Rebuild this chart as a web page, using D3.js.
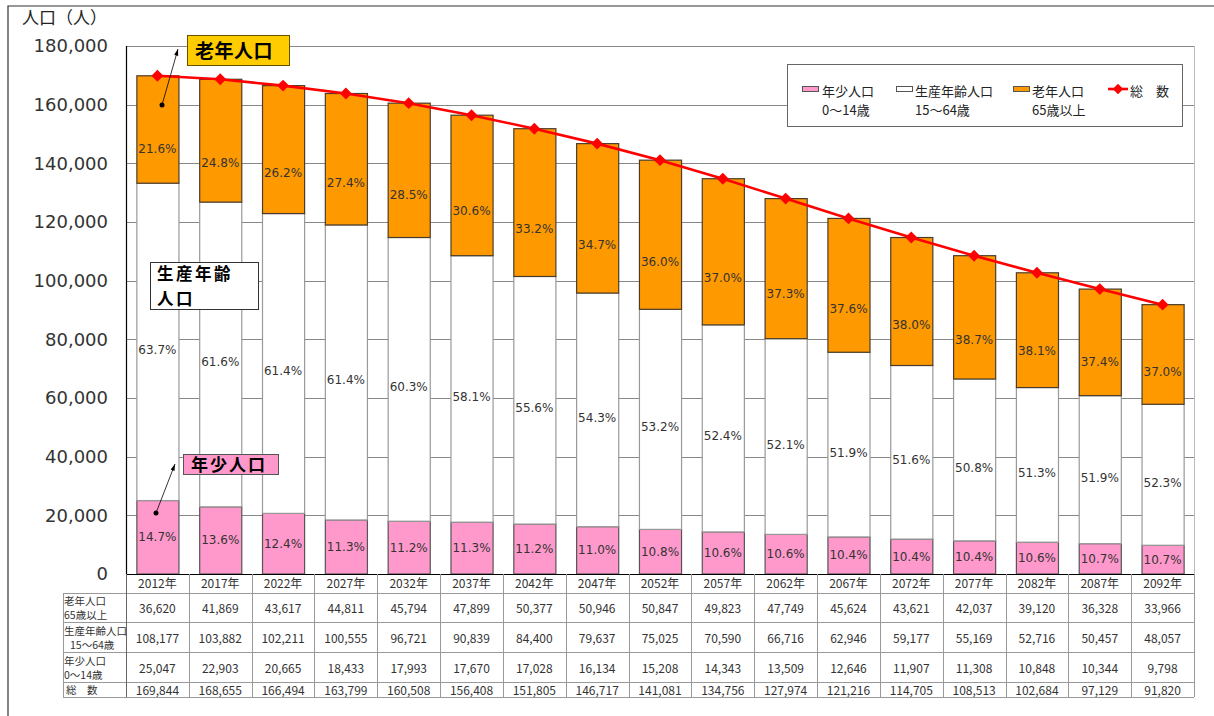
<!DOCTYPE html>
<html>
<head>
<meta charset="utf-8">
<script src="https://cdn.jsdelivr.net/npm/d3@7"></script>
<style>
  body { margin: 0; background: #fff; }
  svg { display: block; font-family: "Noto Sans CJK JP", "Noto Sans", sans-serif; }
</style>
</head>
<body>
<div id="graphic"></div>
<script>
// years along the bottom
const years = ['2012年','2017年','2022年','2027年','2032年','2037年','2042年','2047年','2052年',
  '2057年','2062年','2067年','2072年','2077年','2082年','2087年','2092年']

// 年少人口 0～14歳
const young = [25047,22903,20665,18433,17993,17670,17028,16134,15208,14343,13509,12646,11907,11308,10848,10344,9798]
// 生産年齢人口 15～64歳
const working = [108177,103882,102211,100555,96721,90839,84400,79637,75025,70590,66716,62946,59177,55169,52716,50457,48057]
// 老年人口 65歳以上
const elderly = [36620,41869,43617,44811,45794,47899,50377,50946,50847,49823,47749,45624,43621,42037,39120,36328,33966]
// 総数
const total = [169844,168655,166494,163799,160508,156408,151805,146717,141081,134756,127974,121216,114705,108513,102684,97129,91820]

// percentages printed on the bars
const youngPct = ['14.7%','13.6%','12.4%','11.3%','11.2%','11.3%','11.2%','11.0%','10.8%','10.6%','10.6%','10.4%','10.4%','10.4%','10.6%','10.7%','10.7%']
const workingPct = ['63.7%','61.6%','61.4%','61.4%','60.3%','58.1%','55.6%','54.3%','53.2%','52.4%','52.1%','51.9%','51.6%','50.8%','51.3%','51.9%','52.3%']
const elderlyPct = ['21.6%','24.8%','26.2%','27.4%','28.5%','30.6%','33.2%','34.7%','36.0%','37.0%','37.3%','37.6%','38.0%','38.7%','38.1%','37.4%','37.0%']

const yTicks = [0,20000,40000,60000,80000,100000,120000,140000,160000,180000]

const rowLabels = [['老年人口','65歳以上'], ['生産年齢人口','15～64歳'], ['年少人口','0～14歳'], ['総　数']]
const rowValues = [elderly, working, young, total]

;(function () {
  var width = 1214
  var height = 716

  var svg = d3.select('#graphic').append('svg')
    .attr('width', width)
    .attr('height', height)

  var left = 126, right = 1194, top = 46, bottom = 574
  var latin = '"DejaVu Sans", sans-serif'

  var x = d3.scaleBand()
    .domain(years)
    .range([left, right])
    .paddingInner(0.33)
    .paddingOuter(0.165)

  var y = d3.scaleLinear()
    .domain([0, 180000])
    .range([bottom, top])

  var fmt = d3.format(',')

  // outer frame
  svg.append('path')
    .attr('d', 'M8,716 V6 H1214')
    .attr('fill', 'none')
    .attr('stroke', '#333')
    .attr('stroke-width', 1.2)

  // gridlines + y labels
  var yAxis = d3.axisLeft(y).tickValues(yTicks).tickSize(0).tickFormat(fmt)
  var yg = svg.append('g').attr('transform', 'translate(' + left + ',0)').call(yAxis)
  yg.select('.domain').remove()
  yg.selectAll('text')
    .attr('x', -18)
    .attr('font-size', 18)
    .attr('fill', '#333')
    .attr('font-family', latin)

  svg.append('g').selectAll('line')
    .data(yTicks.filter(d => d > 0))
    .enter().append('line')
    .attr('x1', left).attr('x2', right)
    .attr('y1', d => Math.round(y(d)) + 0.5).attr('y2', d => Math.round(y(d)) + 0.5)
    .attr('stroke', '#888')

  // right border of plot
  svg.append('line')
    .attr('x1', right + 0.5).attr('x2', right + 0.5)
    .attr('y1', top).attr('y2', bottom)
    .attr('stroke', '#bbb')

  svg.append('text')
    .attr('x', 22).attr('y', 24)
    .attr('font-size', 17)
    .attr('fill', '#222')
    .text('人口（人）')

  // stacked bars
  var series = [
    { name: 'young', fill: '#FF99CC', stroke: '#555' },
    { name: 'working', fill: '#FFFFFF', stroke: '#999' },
    { name: 'elderly', fill: '#FF9900', stroke: '#4a3c2c' }
  ]

  var stackData = years.map((yr, i) => ({ year: yr, young: young[i], working: working[i], elderly: elderly[i] }))
  var stacked = d3.stack().keys(['young', 'working', 'elderly'])(stackData)

  var barG = svg.append('g')
  stacked.forEach((layer, k) => {
    barG.append('g').selectAll('rect')
      .data(layer)
      .enter().append('rect')
      .attr('x', d => x(d.data.year) + 0.5)
      .attr('width', x.bandwidth())
      .attr('y', d => y(d[1]))
      .attr('height', d => y(d[0]) - y(d[1]))
      .attr('fill', series[k].fill)
      .attr('stroke', series[k].stroke)
      .attr('stroke-width', 1.2)
  })

  // percent labels; where inside each segment they sit
  var pctSets = [youngPct, workingPct, elderlyPct]
  var labelFrac = [0.5, 0.5, 0.68]
  stacked.forEach((layer, k) => {
    barG.append('g').selectAll('text')
      .data(layer)
      .enter().append('text')
      .attr('x', d => x(d.data.year) + x.bandwidth() / 2)
      .attr('y', d => y(d[1]) + (y(d[0]) - y(d[1])) * labelFrac[k] + (k == 1 ? 8 : 0))
      .attr('text-anchor', 'middle')
      .attr('dominant-baseline', 'central')
      .attr('font-size', 12)
      .attr('font-family', latin)
      .attr('fill', '#333')
      .text((d, i) => pctSets[k][i])
  })

  // axis lines
  svg.append('line').attr('x1', left + 0.5).attr('x2', left + 0.5).attr('y1', top).attr('y2', bottom)
    .attr('stroke', '#000').attr('stroke-width', 1.2)
  svg.append('line').attr('x1', left).attr('x2', right).attr('y1', bottom + 0.5).attr('y2', bottom + 0.5)
    .attr('stroke', '#000').attr('stroke-width', 1.2)

  // total line
  var cx = d => x(d) + x.bandwidth() / 2
  var line = d3.line().x((d, i) => cx(years[i])).y(d => y(d))
  svg.append('path')
    .datum(total)
    .attr('d', line)
    .attr('fill', 'none')
    .attr('stroke', '#FF0000')
    .attr('stroke-width', 2.6)

  svg.append('g').selectAll('path')
    .data(total)
    .enter().append('path')
    .attr('d', d3.symbol().type(d3.symbolDiamond2).size(90))
    .attr('transform', (d, i) => 'translate(' + cx(years[i]) + ',' + y(d) + ')')
    .attr('fill', '#FF0000')

  // legend
  var lg = svg.append('g')
  lg.append('rect').attr('x', 787.5).attr('y', 64.5).attr('width', 395).attr('height', 62)
    .attr('fill', '#fff').attr('stroke', '#666')
  var legendItems = [
    { x: 802, fill: '#FF99CC', l1: '年少人口', l2: '0～14歳', tx: 822 },
    { x: 896, fill: '#FFFFFF', l1: '生産年齢人口', l2: '15～64歳', tx: 915 },
    { x: 1013, fill: '#FF9900', l1: '老年人口', l2: '65歳以上', tx: 1032 }
  ]
  legendItems.forEach(d => {
    lg.append('rect').attr('x', d.x + 0.5).attr('y', 86.5).attr('width', 16).attr('height', 5)
      .attr('fill', d.fill).attr('stroke', '#555')
    lg.append('text').attr('x', d.tx).attr('y', 96).attr('font-size', 13).attr('fill', '#222').text(d.l1)
    lg.append('text').attr('x', d.tx).attr('y', 115).attr('font-size', 13).attr('fill', '#222').text(d.l2)
  })
  lg.append('line').attr('x1', 1108).attr('x2', 1128).attr('y1', 89).attr('y2', 89)
    .attr('stroke', '#FF0000').attr('stroke-width', 2.6)
  lg.append('path').attr('d', d3.symbol().type(d3.symbolDiamond2).size(70))
    .attr('transform', 'translate(1118,89)').attr('fill', '#FF0000')
  lg.append('text').attr('x', 1130).attr('y', 96).attr('font-size', 13).attr('fill', '#222').text('総　数')

  // callouts
  function arrow(x1, y1, x2, y2) {
    svg.append('circle').attr('cx', x1).attr('cy', y1).attr('r', 2.5).attr('fill', '#000')
    svg.append('line').attr('x1', x1).attr('y1', y1).attr('x2', x2).attr('y2', y2)
      .attr('stroke', '#000').attr('stroke-width', 0.8)
    var a = Math.atan2(y2 - y1, x2 - x1)
    var s = 7
    var p1 = [x2 - s * Math.cos(a - 0.3), y2 - s * Math.sin(a - 0.3)]
    var p2 = [x2 - s * Math.cos(a + 0.3), y2 - s * Math.sin(a + 0.3)]
    svg.append('path').attr('d', 'M' + x2 + ',' + y2 + 'L' + p1 + 'L' + p2 + 'Z').attr('fill', '#000')
  }

  arrow(162, 105, 178, 49)
  svg.append('rect').attr('x', 187.5).attr('y', 35.5).attr('width', 102).attr('height', 30)
    .attr('fill', '#FFCC00').attr('stroke', '#665200')
  svg.append('text').attr('x', 195).attr('y', 58).attr('font-size', 19).attr('font-weight', 'bold')
    .attr('fill', '#000').attr('letter-spacing', 0.5).text('老年人口')

  svg.append('rect').attr('x', 150.5).attr('y', 262.5).attr('width', 108).attr('height', 47)
    .attr('fill', '#fff').attr('stroke', '#333')
  svg.append('text').attr('x', 157).attr('y', 280).attr('font-size', 16.5).attr('font-weight', 'bold')
    .attr('fill', '#000').attr('letter-spacing', 2.5).text('生産年齢')
  svg.append('text').attr('x', 157).attr('y', 305).attr('font-size', 16.5).attr('font-weight', 'bold')
    .attr('fill', '#000').attr('letter-spacing', 2.5).text('人口')

  arrow(156, 513, 175, 464)
  svg.append('rect').attr('x', 183.5).attr('y', 454.5).attr('width', 95).attr('height', 20)
    .attr('fill', '#FF99CC').attr('stroke', '#555')
  svg.append('text').attr('x', 191).attr('y', 471).attr('font-size', 17).attr('font-weight', 'bold')
    .attr('fill', '#000').attr('letter-spacing', 2).text('年少人口')

  // data table under the chart
  var rowEdges = [574, 593, 622, 652, 682, 697]
  var tableLeft = 63
  var step = x.step()
  var tg = svg.append('g')

  // horizontal lines
  rowEdges.forEach((ry, i) => {
    tg.append('line')
      .attr('x1', i < 2 ? left : tableLeft).attr('x2', right)
      .attr('y1', ry + 0.5).attr('y2', ry + 0.5)
      .attr('stroke', i == 0 ? '#000' : '#999')
  })
  tg.append('line').attr('x1', tableLeft).attr('x2', left).attr('y1', 593.5).attr('y2', 593.5).attr('stroke', '#999')
  // vertical lines
  tg.append('line').attr('x1', tableLeft + 0.5).attr('x2', tableLeft + 0.5).attr('y1', 593).attr('y2', 697).attr('stroke', '#999')
  d3.range(years.length + 1).forEach(i => {
    var vx = Math.round(left + i * step) + 0.5
    tg.append('line').attr('x1', vx).attr('x2', vx).attr('y1', 574).attr('y2', 697)
      .attr('stroke', i == 0 ? '#666' : '#999')
  })

  tg.selectAll('text.year')
    .data(years)
    .enter().append('text')
    .attr('class', 'year')
    .attr('x', d => cx(d))
    .attr('y', 588)
    .attr('text-anchor', 'middle')
    .attr('font-size', 12)
    .attr('fill', '#333')
    .text(d => d)

  rowValues.forEach((vals, r) => {
    var mid = (rowEdges[r + 1] + rowEdges[r + 2]) / 2
    tg.append('g').selectAll('text')
      .data(vals)
      .enter().append('text')
      .attr('x', (d, i) => cx(years[i]))
      .attr('y', mid)
      .attr('dominant-baseline', 'central')
      .attr('text-anchor', 'middle')
      .attr('font-size', 12)
      .attr('fill', '#333')
      .text(d => fmt(d))

    var lab = rowLabels[r]
    if (lab.length == 2) {
      tg.append('text').attr('x', 64).attr('y', mid - 7).attr('dominant-baseline', 'central')
        .attr('font-size', 10.5).attr('fill', '#333').text(lab[0])
      tg.append('text').attr('x', r == 1 ? 70 : 64).attr('y', mid + 7).attr('dominant-baseline', 'central')
        .attr('font-size', 10.5).attr('fill', '#333').text(lab[1])
    } else {
      tg.append('text').attr('x', 66).attr('y', mid).attr('dominant-baseline', 'central')
        .attr('font-size', 10.5).attr('fill', '#333').text(lab[0])
    }
  })
})()
</script>
</body>
</html>
